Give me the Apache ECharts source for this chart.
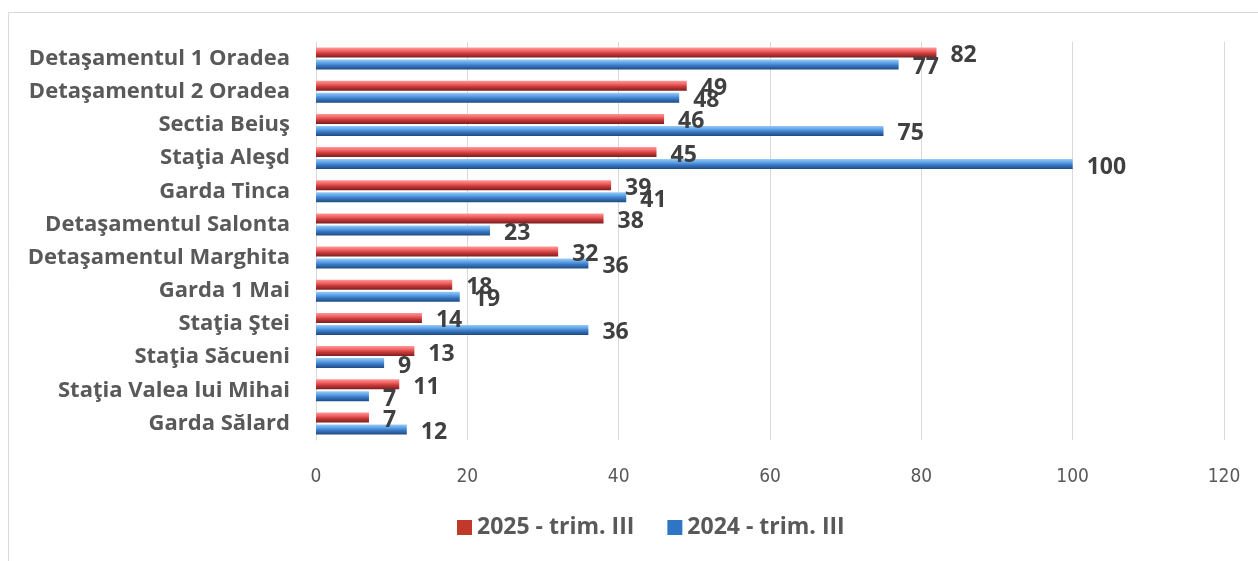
<!DOCTYPE html>
<html><head><meta charset="utf-8">
<script src="https://cdn.jsdelivr.net/npm/echarts@6/dist/echarts.min.js"></script>
<style>html,body{margin:0;padding:0;background:#fff}#c{width:1258px;height:561px}</style>
</head><body><div id="c"></div>
<script>
const categories = ["Detaşamentul 1 Oradea","Detaşamentul 2 Oradea","Sectia Beiuş","Staţia Aleşd","Garda Tinca","Detaşamentul Salonta","Detaşamentul Marghita","Garda 1 Mai","Staţia Ştei","Staţia Săcueni","Staţia Valea lui Mihai","Garda Sălard"];
const s2025 = [82,49,46,45,39,38,32,18,14,13,11,7];
const s2024 = [77,48,75,100,41,23,36,19,36,9,7,12];
const seriesNames = ["2025 - trim. III","2024 - trim. III"];

const chart = echarts.init(document.getElementById('c'));
const font = '"Open Sans", sans-serif';
const narrow = '"Liberation Sans Narrow", "DejaVu Sans Condensed", Lato, sans-serif';
function grad(c1,c2,c3,c4){
  return new echarts.graphic.LinearGradient(0,0,0,1,[
    {offset:0,color:c1},{offset:0.35,color:c2},{offset:0.6,color:c3},{offset:1,color:c4}]);
}
const redG = grad('#ff9a9a','#f06060','#c83a3a','#7a1e1e');
const blueG = grad('#9ccbf5','#5aa0e6','#3a78c4','#1f4a80');
const lab = {show:true,position:'right',distance:14,offset:[0,3],fontFamily:font,fontWeight:'bold',fontSize:23,color:'#404040'};
chart.setOption({
  animation:false,
  graphic:[{type:'rect',shape:{x:8.5,y:12.5,width:1260,height:560},style:{fill:'none',stroke:'#d9d9d9',lineWidth:1}}],
  grid:{left:316,right:34,top:42,bottom:121},
  legend:{bottom:17,left:452,itemWidth:15,itemHeight:15,itemGap:33,itemTextGap:5,
    textStyle:{fontFamily:font,fontWeight:'bold',fontSize:23,color:'#595959'},
    data:[{name:seriesNames[0],icon:'rect',itemStyle:{color:'#c0392b'}},{name:seriesNames[1],icon:'rect',itemStyle:{color:'#2e75c6'}}]},
  xAxis:{type:'value',min:0,max:120,interval:20,
    axisLabel:{fontFamily:narrow,fontSize:19,color:'#595959',margin:28},
    axisLine:{show:false},axisTick:{show:false},
    splitLine:{lineStyle:{color:'#d9d9d9'}}},
  yAxis:{type:'category',data:categories,inverse:true,
    axisLabel:{fontFamily:font,fontWeight:'bold',fontSize:22,color:'#595959',margin:26},
    axisLine:{lineStyle:{color:'#d9d9d9'}},axisTick:{show:false}},
  series:[
    {name:seriesNames[0],type:'bar',data:s2025,barWidth:10,barGap:'20%',itemStyle:{color:redG},label:lab},
    {name:seriesNames[1],type:'bar',data:s2024,barWidth:10,itemStyle:{color:blueG},label:lab}
  ]
});
</script></body></html>
